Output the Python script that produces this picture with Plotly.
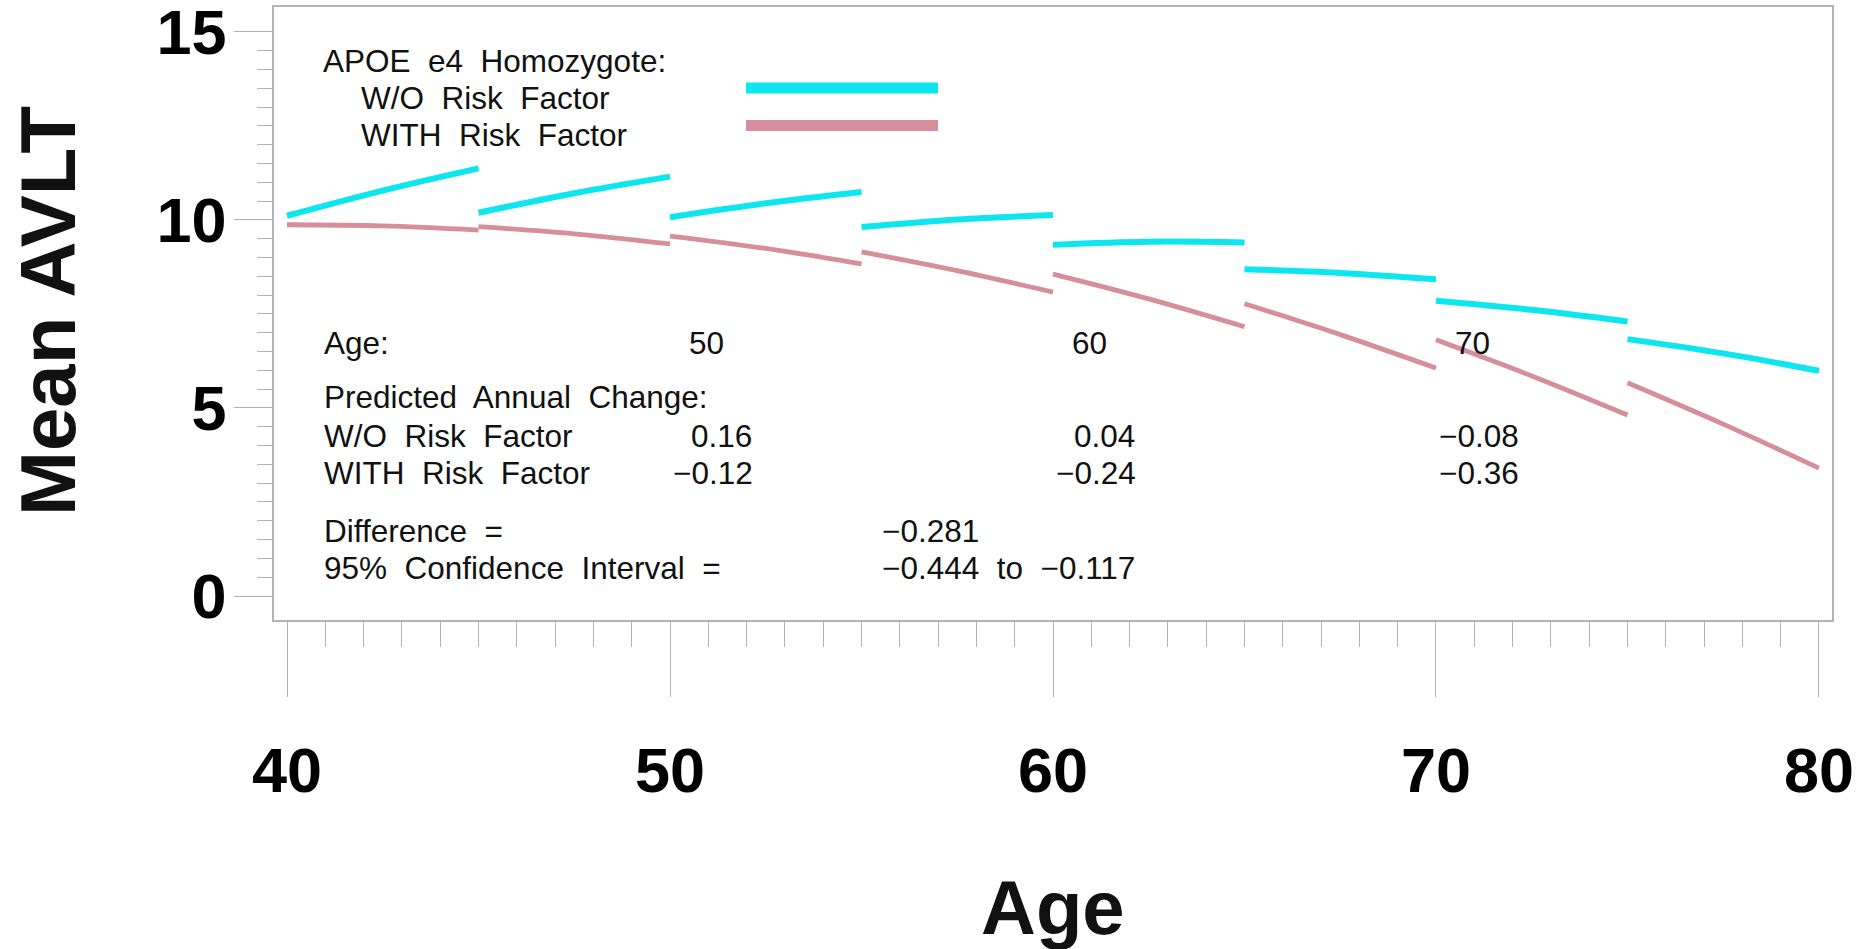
import plotly.graph_objects as go

# ---------------- data ----------------
seg_start_age = [40, 45, 50, 55, 60, 65, 70, 75]
seg_len = 5

wo_start = [10.11, 10.19, 10.07, 9.81, 9.34, 8.69, 7.85, 6.83]
wo_mid = [10.78, 10.71, 10.44, 10.01, 9.42, 8.59, 7.61, 6.45]
wo_end = [11.37, 11.15, 10.74, 10.13, 9.40, 8.42, 7.30, 5.99]

with_start = [9.87, 9.82, 9.57, 9.15, 8.56, 7.77, 6.81, 5.67]
with_mid = [9.84, 9.63, 9.24, 8.65, 7.90, 6.95, 5.85, 4.57]
with_end = [9.73, 9.36, 8.83, 8.08, 7.16, 6.06, 4.81, 3.40]

table_ages = [50, 60, 70]
change_wo = ["0.16", "0.04", "\u22120.08"]
change_with = ["\u22120.12", "\u22120.24", "\u22120.36"]
difference = "\u22120.281"
ci_low = "\u22120.444"
ci_high = "\u22120.117"

x_ticks = [40, 50, 60, 70, 80]
y_ticks = [0, 5, 10, 15]

# ---------------- styling / geometry ----------------
W, H = 1862, 949
ML, MR, MT, MB = 274, 30, 7, 329
PW, PH = W - ML - MR, H - MT - MB
CYAN = "#0CE6EE"
PINK = "#D68E9B"
AXC = "#b3b3b3"
FONT = "Liberation Sans, Arial, Helvetica, sans-serif"
TXT = 31.5


def px_x(px):
    return (px - ML) / PW


def px_y(py):
    return (H - MB - py) / PH


def segments(starts, mids, ends):
    xs, ys = [], []
    for a, s, m, e in zip(seg_start_age, starts, mids, ends):
        xs += [a, a + seg_len / 2, a + seg_len, None]
        ys += [s, m, e, None]
    return xs, ys


fig = go.Figure()
xw, yw = segments(wo_start, wo_mid, wo_end)
xr, yr = segments(with_start, with_mid, with_end)
fig.add_trace(go.Scatter(x=xr, y=yr, mode="lines", name="WITH Risk Factor",
                         line=dict(color=PINK, width=4.8, shape="spline"),
                         connectgaps=False, hoverinfo="skip"))
fig.add_trace(go.Scatter(x=xw, y=yw, mode="lines", name="W/O Risk Factor",
                         line=dict(color=CYAN, width=6, shape="spline"),
                         connectgaps=False, hoverinfo="skip"))

annotations = []


def text_px(t, px, py, anchor="left", size=TXT, bold=False, angle=0):
    annotations.append(dict(
        text=t, x=px_x(px), y=px_y(py), xref="paper", yref="paper",
        xanchor=anchor, yanchor="middle", showarrow=False, textangle=angle,
        font=dict(family=FONT, size=size, color="#111111",
                  weight="bold" if bold else "normal")))


# legend block
text_px("APOE  e4  Homozygote:", 321, 61)
text_px("W/O  Risk  Factor", 359, 98)
text_px("WITH  Risk  Factor", 359, 135)

# annual change table
text_px("Age:", 322, 343)
text_px("Predicted  Annual  Change:", 322, 397)
text_px("W/O  Risk  Factor", 322, 436)
text_px("WITH  Risk  Factor", 322, 473)
text_px("Difference  =", 322, 531)
text_px("95%  Confidence  Interval  =", 322, 568)
text_px(difference, 880, 531)
text_px(f"{ci_low}  to  {ci_high}", 880, 568)


def lead_width(s):
    # width of the characters before the decimal point (Arial metrics)
    w = 0.556 * TXT
    if s.startswith("\u2212"):
        w += 0.584 * TXT
    return w


for age, wo, wi in zip(table_ages, change_wo, change_with):
    xa = age + 0.96
    annotations.append(dict(text=str(age), x=xa, y=px_y(343), xref="x", yref="paper",
                            xanchor="center", yanchor="middle", showarrow=False,
                            font=dict(family=FONT, size=TXT, color="#111111")))
    for s, py in ((wo, 436), (wi, 473)):
        annotations.append(dict(text=s, x=xa, y=px_y(py), xref="x", yref="paper",
                                xanchor="left", xshift=-lead_width(s),
                                yanchor="middle", showarrow=False,
                                font=dict(family=FONT, size=TXT, color="#111111")))

# axis titles
text_px("Mean AVLT", 48, 311, anchor="center", size=78, bold=True, angle=-90)
text_px("Age", 1053, 907, anchor="center", size=76, bold=True)

shapes = [
    dict(type="line", xref="paper", yref="paper", x0=px_x(746), x1=px_x(938),
         y0=px_y(88), y1=px_y(88), line=dict(color=CYAN, width=11)),
    dict(type="line", xref="paper", yref="paper", x0=px_x(746), x1=px_x(938),
         y0=px_y(125.5), y1=px_y(125.5), line=dict(color=PINK, width=11)),
]

x_minor = [a for a in range(41, 80) if a % 10 != 0]
y_minor = [i * 0.5 for i in range(1, 30) if i % 10 != 0]

tickfont = dict(family=FONT, size=63, color="#000000", weight="bold")

fig.update_layout(
    template="none",
    width=W, height=H,
    margin=dict(l=ML, r=MR, t=MT, b=MB, autoexpand=False),
    paper_bgcolor="white", plot_bgcolor="white",
    showlegend=False,
    annotations=annotations,
    shapes=shapes,
    xaxis=dict(range=[39.66, 80.34], tickmode="array", tickvals=x_ticks,
               ticks="outside", ticklen=75, tickwidth=1, tickcolor=AXC,
               showline=True, linecolor=AXC, linewidth=1.5, mirror=True,
               showgrid=False, zeroline=False, automargin=False,
               tickfont=tickfont, ticklabelstandoff=20, ticklabeloverflow="allow",
               minor=dict(tickmode="array", tickvals=x_minor, ticks="outside",
                          ticklen=25, tickwidth=1, tickcolor=AXC, showgrid=False)),
    yaxis=dict(range=[-0.638, 15.66], tickmode="array", tickvals=y_ticks,
               ticks="outside", ticklen=38, tickwidth=1, tickcolor=AXC,
               showline=True, linecolor=AXC, linewidth=1.5, mirror=True,
               showgrid=False, zeroline=False, automargin=False,
               tickfont=tickfont, ticklabelstandoff=-5, ticklabeloverflow="allow",
               minor=dict(tickmode="array", tickvals=y_minor, ticks="outside",
                          ticklen=15, tickwidth=1, tickcolor=AXC, showgrid=False)),
)

fig.write_html("out.html", config={"displayModeBar": False},
               post_script="document.body.style.margin='0';document.body.style.overflow='hidden';")
